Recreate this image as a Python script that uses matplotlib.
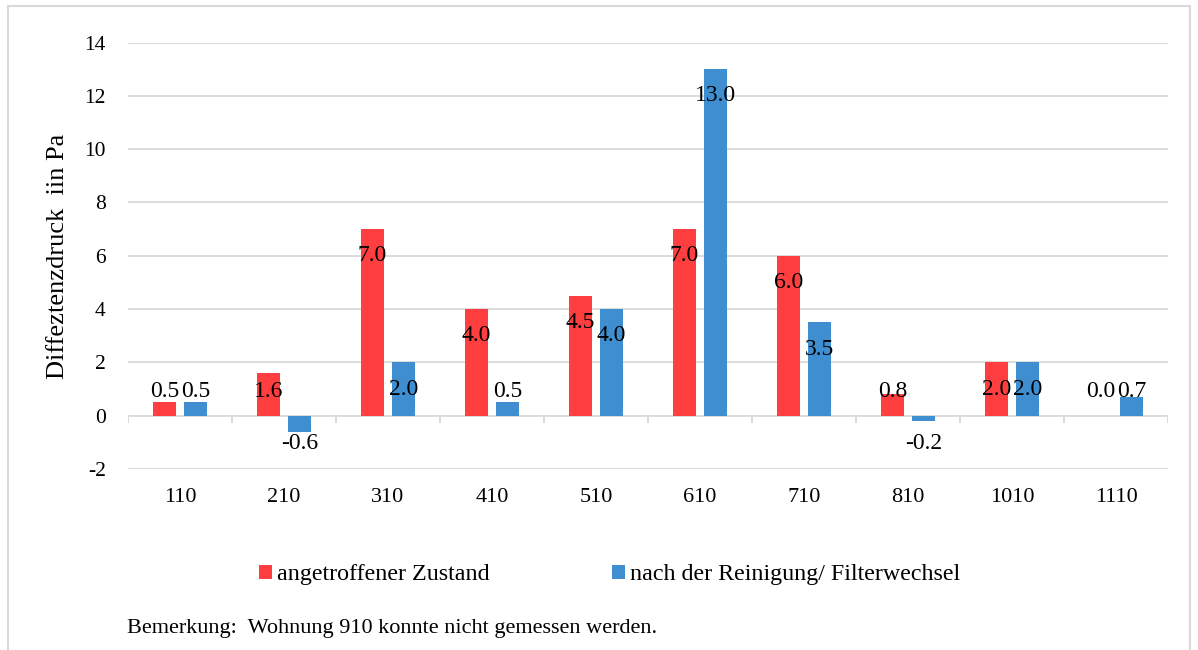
import matplotlib
matplotlib.use("Agg")
import matplotlib.pyplot as plt
import matplotlib.patches as patches
import numpy as np

plt.rcParams['font.family'] = ['Liberation Serif', 'DejaVu Serif']
plt.rcParams['axes.unicode_minus'] = False

# data
wohnungen = ["110", "210", "310", "410", "510", "610", "710", "810", "1010", "1110"]
vorher = [0.5, 1.6, 7.0, 4.0, 4.5, 7.0, 6.0, 0.8, 2.0, 0.0]
nachher = [0.5, -0.6, 2.0, 0.5, 4.0, 13.0, 3.5, -0.2, 2.0, 0.7]
y_ticks = [-2, 0, 2, 4, 6, 8, 10, 12, 14]

RED = "#FF3F3F"
BLUE = "#3F8FD0"
GRID = "#D9D9D9"

fig = plt.figure(figsize=(11.98, 6.5), dpi=100)
ax = fig.add_axes([0.1068, 0.2785, 0.8682, 0.656])

x = np.arange(len(wohnungen))
off, w = 0.148, 0.22
ax.bar(x - off, vorher, w, color=RED, zorder=3, label="angetroffener Zustand")
ax.bar(x + off, nachher, w, color=BLUE, zorder=3, label="nach der Reinigung/ Filterwechsel")

ax.set_xlim(-0.5, len(wohnungen) - 0.5)
ax.set_ylim(-2, 14)
ax.set_yticks(y_ticks)
ax.yaxis.grid(True, color=GRID, linewidth=1.3, zorder=0)
ax.set_axisbelow(True)
for s in ax.spines.values():
    s.set_visible(False)
ax.tick_params(axis='y', length=0, pad=16, labelsize=15.5)
ax.set_xticks(x)
ax.set_xticklabels(wohnungen)
ax.tick_params(axis='x', length=0, pad=14, labelsize=16)

# category boundary ticks on the zero line
ax.vlines(np.arange(len(wohnungen) + 1) - 0.5, -0.26, 0, color=GRID, linewidth=1.3, zorder=2)


# excel style label placement
def label_y(v):
    if v < 0:
        return -1.05
    return max(v - 1.0, 0.9)


for xi, v in zip(x, vorher):
    ax.text(xi - off, label_y(v), f"{v:.1f}", ha='center', va='center', fontsize=17, zorder=4)
for xi, v in zip(x, nachher):
    ax.text(xi + off, label_y(v), f"{v:.1f}", ha='center', va='center', fontsize=17, zorder=4)

fig.text(58 / 1198, 1 - 256 / 650, "Diffeztenzdruck  iin Pa", rotation=90,
         ha='center', va='center', fontsize=19)

h, l = ax.get_legend_handles_labels()
fig.legend(h, l, loc='center', bbox_to_anchor=(0.5088, 0.1154), ncol=2, frameon=False,
           fontsize=17.3, handlelength=0.55, handleheight=0.55, handletextpad=0.2,
           columnspacing=5.1)

fig.text(127 / 1198, 1 - 628 / 650, "Bemerkung:  Wohnung 910 konnte nicht gemessen werden.",
         ha='left', va='center', fontsize=16)

# outer frame
fig.patches.append(patches.Rectangle((8 / 1198, -0.01), 1182 / 1198, 1 - 6 / 650 + 0.01,
                                     transform=fig.transFigure, fill=False,
                                     edgecolor="#D9D9D9", linewidth=1.5))

fig.savefig("out.png", dpi=100)
